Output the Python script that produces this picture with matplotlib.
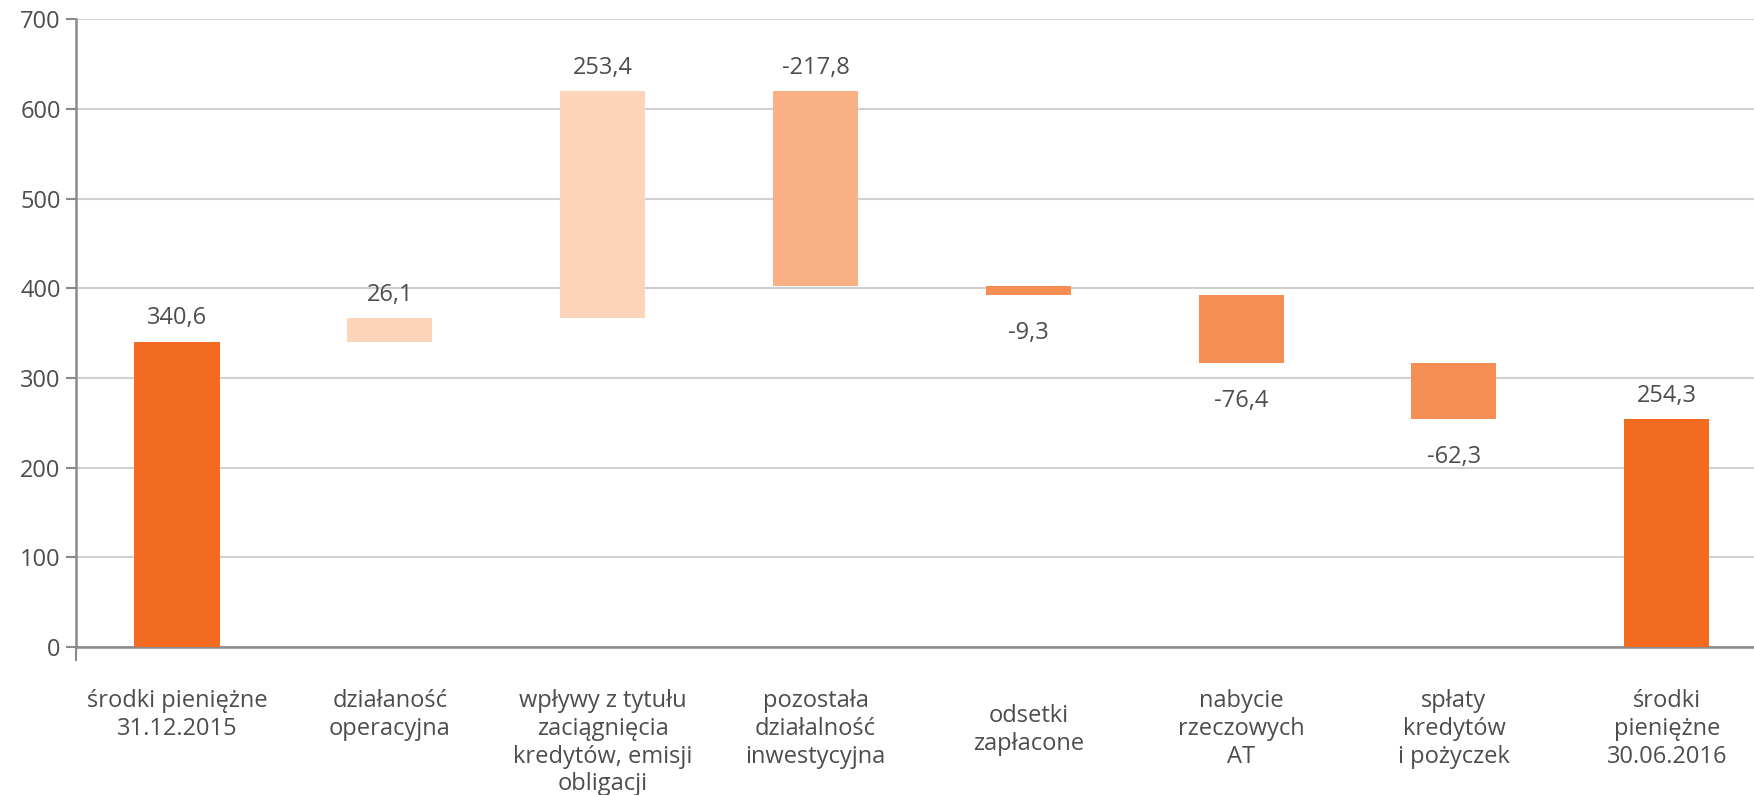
import numpy as np
import matplotlib.pyplot as plt
import matplotlib.transforms as mtransforms

plt.rcParams['font.family'] = ['Open Sans', 'DejaVu Sans']

categories = ['środki pieniężne\n31.12.2015', 'działaność\noperacyjna',
              'wpływy z tytułu\nzaciągnięcia\nkredytów, emisji\nobligacji',
              'pozostała\ndziałalność\ninwestycyjna', 'odsetki\nzapłacone',
              'nabycie\nrzeczowych\nAT', 'spłaty\nkredytów\ni pożyczek',
              'środki\npieniężne\n30.06.2016']
changes = [340.6, 26.1, 253.4, -217.8, -9.3, -76.4, -62.3, 254.3]
value_labels = ['340,6', '26,1', '253,4', '-217,8', '-9,3', '-76,4', '-62,3', '254,3']
is_total = [True, False, False, False, False, False, False, True]
label_below = [False, False, False, False, True, True, True, False]

c_total = '#F26B21'
c_up = '#FCD4B9'
c_big_down = '#F8B084'
c_down = '#F48E53'

# waterfall bottoms / heights
bottoms = []
heights = []
running = 0.0
for v, tot in zip(changes, is_total):
    if tot:
        bottoms.append(0.0)
        heights.append(v)
        running = v
    else:
        new = running + v
        bottoms.append(min(running, new))
        heights.append(abs(v))
        running = new

colors = []
for v, tot in zip(changes, is_total):
    if tot:
        colors.append(c_total)
    elif v > 0:
        colors.append(c_up)
    elif v < -100:
        colors.append(c_big_down)
    else:
        colors.append(c_down)

fig = plt.figure(figsize=(17.54, 7.95), dpi=100)
ax = fig.add_axes([0.0433, 0.186, 0.9567, 0.790])

x = np.arange(len(categories))
ax.bar(x, heights, bottom=bottoms, width=0.4, color=colors, zorder=3)

ax.set_ylim(0, 700)
ax.set_xlim(-0.475, 7.41)
ax.set_yticks(np.arange(0, 701, 100))
ax.yaxis.grid(True, color='#D0D0D0', linewidth=1.5, zorder=0)
ax.tick_params(axis='y', labelsize=17, colors='#8A8A8E', labelcolor='#4D4D4F',
               length=7, width=1.5, pad=4)
ax.set_xticks([-0.475])
ax.set_xticklabels([''])
ax.tick_params(axis='x', length=10, width=1.5, colors='#8A8A8E')

for s in ['top', 'right']:
    ax.spines[s].set_visible(False)
for s in ['left', 'bottom']:
    ax.spines[s].set_color('#8A8A8E')
    ax.spines[s].set_linewidth(1.8)

for i in range(len(categories)):
    top = bottoms[i] + heights[i]
    if label_below[i]:
        ax.annotate(value_labels[i], (x[i], bottoms[i]), xytext=(0, -19),
                    textcoords='offset points', ha='center', va='top',
                    fontsize=17, color='#4D4D4F')
    else:
        ax.annotate(value_labels[i], (x[i], top), xytext=(0, 8),
                    textcoords='offset points', ha='center', va='bottom',
                    fontsize=17, color='#4D4D4F')

trans = mtransforms.blended_transform_factory(ax.transData, ax.transAxes)
for i, lab in enumerate(categories):
    ytop = -0.066
    if i == 4:
        ytop = -0.090
    ax.text(x[i], ytop, lab, transform=trans, ha='center', va='top',
            fontsize=17, color='#4D4D4F', linespacing=1.22)

fig.savefig('out.png', dpi=100)
